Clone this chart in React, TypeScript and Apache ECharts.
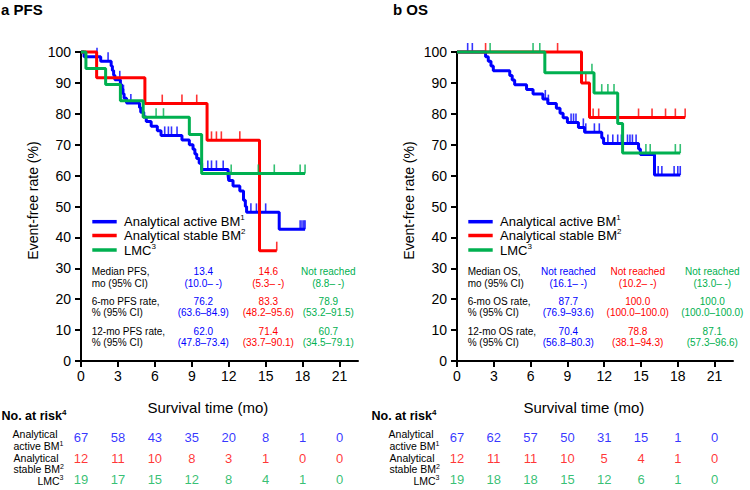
import React, { useEffect, useRef } from 'react';
import * as echarts from 'echarts';

const FONT = '"Liberation Sans", Arial, Helvetica, sans-serif';
const BLUE = '#0000FF';
const RED = '#FF0000';
const GREEN = '#00B050';

const groupNames = ['Analytical active BM', 'Analytical stable BM', 'LMC'];
const groupSup = ['1', '2', '3'];
const groupColors = [BLUE, RED, GREEN];

const xTickValues = [0, 3, 6, 9, 12, 15, 18, 21];

// ---- PFS: Kaplan–Meier steps [month, %] ----
const pfsActive = [
  [0, 100], [0.25, 98.5], [1.6, 97.0], [2.45, 95.5], [2.55, 94.0], [2.65, 92.5], [2.75, 91.0],
  [3.2, 89.5], [3.3, 88.0], [3.4, 86.5], [3.5, 85.0], [3.7, 83.5], [4.75, 82.0], [4.85, 80.5],
  [5.1, 79.0], [5.3, 77.5], [5.7, 76.0], [6.2, 74.5], [6.5, 73.0], [8.2, 71.5], [8.8, 70.0],
  [9.1, 68.5], [9.25, 67.0], [9.4, 65.5], [9.6, 64.0], [9.8, 62.0], [11.95, 60.0], [12.0, 58.4],
  [12.35, 56.6], [12.9, 55.0], [13.2, 52.0], [13.35, 50.0], [13.45, 48.1], [16.1, 42.6], [18.2, 42.6],
];
const pfsStable = [[0, 100], [1.27, 91.7], [5.19, 83.3], [10.24, 71.4], [14.5, 35.7], [15.9, 35.7]];
const pfsLmc = [[0, 100], [0.4, 94.7], [2.0, 89.5], [3.2, 84.2], [5.05, 78.9], [8.8, 73.3], [9.8, 60.7], [18.2, 60.7]];
const pfsActiveCensor = [1.3, 2.2, 3.15, 3.45, 4.05, 6.8, 7.1, 7.35, 7.8, 10.3, 10.6, 11.0, 11.55, 12.1, 13.8, 14.25, 15.0, 17.8, 17.95, 18.1, 18.2];
const pfsStableCensor = [6.6, 8.2, 9.4, 10.6, 11.0, 11.4, 12.9, 15.9];
const pfsLmcCensor = [6.1, 6.7, 12.2, 14.4, 15.7, 17.8, 18.2];

// ---- OS ----
const osActive = [
  [0, 100], [2.33, 98.5], [2.55, 97.0], [2.77, 95.5], [2.96, 93.9], [4.3, 92.4], [4.5, 90.9],
  [4.7, 89.4], [5.67, 87.9], [6.2, 86.4], [7.0, 84.8], [7.4, 83.3], [8.1, 81.8], [8.4, 80.2],
  [8.65, 78.7], [9.0, 77.2], [9.9, 75.6], [10.4, 74.0], [11.8, 72.2], [11.95, 70.4], [14.8, 68.6],
  [14.95, 66.8], [16.1, 60.2], [18.2, 60.2],
];
const osStable = [[0, 100], [10.15, 90.0], [10.8, 78.8], [18.6, 78.8]];
const osLmc = [[0, 100], [7.16, 93.3], [11.17, 86.7], [13.1, 76.9], [13.5, 67.3], [18.2, 67.3]];
const osActiveCensor = [0.87, 1.25, 7.2, 7.45, 9.3, 9.5, 9.7, 10.3, 10.5, 11.2, 11.6, 12.3, 12.7, 13.1, 13.4, 13.9, 14.1, 14.3, 14.6, 16.4, 16.7, 17.7, 18.0, 18.2];
const osStableCensor = [2.33, 8.2, 10.5, 11.1, 11.55, 14.8, 15.9, 17.0, 17.8, 18.6];
const osLmcCensor = [2.7, 6.2, 6.75, 11.0, 11.8, 12.3, 12.8, 15.4, 15.75, 17.8, 18.2];

// ---- numbers at risk ----
const riskTimes = [0, 3, 6, 9, 12, 15, 18, 21];
const pfsRiskActive = [67, 58, 43, 35, 20, 8, 1, 0];
const pfsRiskStable = [12, 11, 10, 8, 3, 1, 0, 0];
const pfsRiskLmc = [19, 17, 15, 12, 8, 4, 1, 0];
const osRiskActive = [67, 62, 57, 50, 31, 15, 1, 0];
const osRiskStable = [12, 11, 11, 10, 5, 4, 1, 0];
const osRiskLmc = [19, 18, 18, 15, 12, 6, 1, 0];

// ---- summary statistics ----
const pfsStatLabels = ['Median PFS,\nmo (95% CI)', '6-mo PFS rate,\n% (95% CI)', '12-mo PFS rate,\n% (95% CI)'];
const pfsStatsActive = ['13.4\n(10.0– -)', '76.2\n(63.6–84.9)', '62.0\n(47.8–73.4)'];
const pfsStatsStable = ['14.6\n(5.3– -)', '83.3\n(48.2–95.6)', '71.4\n(33.7–90.1)'];
const pfsStatsLmc = ['Not reached\n(8.8– -)', '78.9\n(53.2–91.5)', '60.7\n(34.5–79.1)'];
const osStatLabels = ['Median OS,\nmo (95% CI)', '6-mo OS rate,\n% (95% CI)', '12-mo OS rate,\n% (95% CI)'];
const osStatsActive = ['Not reached\n(16.1– -)', '87.7\n(76.9–93.6)', '70.4\n(56.8–80.3)'];
const osStatsStable = ['Not reached\n(10.2– -)', '100.0\n(100.0–100.0)', '78.8\n(38.1–94.3)'];
const osStatsLmc = ['Not reached\n(13.0– -)', '100.0\n(100.0–100.0)', '87.1\n(57.3–96.6)'];

const panels = [
  {
    title: 'a PFS', titleX: 1, left: 81, width: 277, ox: 0, riskX: 1.5, labelOx: 0,
    curves: [pfsActive, pfsStable, pfsLmc],
    censors: [pfsActiveCensor, pfsStableCensor, pfsLmcCensor],
    risk: [pfsRiskActive, pfsRiskStable, pfsRiskLmc],
    statLabels: pfsStatLabels,
    stats: [pfsStatsActive, pfsStatsStable, pfsStatsLmc],
    statCols: [203.3, 268.3, 328.3],
  },
  {
    title: 'b OS', titleX: 393, left: 457, width: 276, ox: 376, riskX: 371.5, labelOx: 376,
    curves: [osActive, osStable, osLmc],
    censors: [osActiveCensor, osStableCensor, osLmcCensor],
    risk: [osRiskActive, osRiskStable, osRiskLmc],
    statLabels: osStatLabels,
    stats: [osStatsActive, osStatsStable, osStatsLmc],
    statCols: [568.3, 637.7, 712.3],
  },
];

function survAt(steps: number[][], t: number): number {
  let v = steps[0][1];
  for (const [tt, vv] of steps) if (tt <= t) v = vv;
  return v;
}

function txt(x: number, y: number, text: string, extra: any = {}, rich?: any) {
  return {
    type: 'text', x, y, silent: true,
    style: Object.assign({ text, fontFamily: FONT, fontSize: 10, fill: '#000', align: 'left', verticalAlign: 'middle' }, extra, rich ? { rich } : {}),
  };
}

function buildOption() {
  const grid: any[] = [];
  const xAxis: any[] = [];
  const yAxis: any[] = [];
  const series: any[] = [];
  const graphic: any[] = [];

  panels.forEach((p, pi) => {
    grid.push({ left: p.left, top: 52, width: p.width, height: 309 });
    xAxis.push({
      gridIndex: pi, type: 'value', min: 0, max: 22.5, interval: 3,
      axisLine: { show: true, onZero: false, lineStyle: { color: '#000', width: 2 } },
      axisTick: { show: true, length: 6, lineStyle: { color: '#000', width: 2 }, customValues: xTickValues },
      axisLabel: { customValues: xTickValues, fontSize: 14, color: '#000', fontFamily: FONT, margin: 8 },
      splitLine: { show: false },
    });
    yAxis.push({
      gridIndex: pi, type: 'value', min: 0, max: 100, interval: 10,
      axisLine: { show: true, onZero: false, lineStyle: { color: '#000', width: 2 } },
      axisTick: { show: true, length: 6, lineStyle: { color: '#000', width: 2 } },
      axisLabel: { fontSize: 14, color: '#000', fontFamily: FONT, margin: 10 },
      splitLine: { show: false },
    });
  });
  panels.forEach((p, pi) => {
    grid.push({ left: p.left, top: 427, width: p.width, height: 65 });
    xAxis.push({ gridIndex: 2 + pi, type: 'value', min: 0, max: 22.5, show: false });
    yAxis.push({ gridIndex: 2 + pi, type: 'value', min: 0, max: 3, inverse: true, show: false });
  });

  panels.forEach((p, pi) => {
    p.curves.forEach((steps, gi) => {
      series.push({
        type: 'line', name: groupNames[gi], xAxisIndex: pi, yAxisIndex: pi, data: steps,
        step: 'end', symbol: 'none', clip: false, color: groupColors[gi],
        lineStyle: { color: groupColors[gi], width: 3 }, z: 2 + gi, silent: true,
      });
      series.push({
        type: 'scatter', xAxisIndex: pi, yAxisIndex: pi, clip: false,
        data: p.censors[gi].map((t) => [t, survAt(steps, t)]),
        symbol: 'rect', symbolSize: [1.6, 9], symbolOffset: [0, -4.5],
        itemStyle: { color: groupColors[gi] }, z: 2 + gi, silent: true,
      });
      series.push({
        type: 'scatter', xAxisIndex: 2 + pi, yAxisIndex: 2 + pi, clip: false,
        data: riskTimes.map((t, i) => [t, gi + 0.5, p.risk[gi][i]]),
        symbolSize: 1, itemStyle: { color: 'rgba(0,0,0,0)' }, silent: true,
        label: {
          show: true, position: 'inside', formatter: (d: any) => String(d.value[2]),
          color: groupColors[gi], fontSize: 13, fontFamily: FONT,
        },
      });
    });

    const ox = p.ox;
    // title
    graphic.push(txt(p.titleX, 9, p.title, { fontSize: 15, fontWeight: 'bold' }));
    // axis names
    graphic.push({ ...txt(33 + ox, 200.5, 'Event-free rate (%)', { fontSize: 14, align: 'center' }), rotation: Math.PI / 2 });
    graphic.push(txt(207.8 + ox, 407, 'Survival time (mo)', { fontSize: 15, align: 'center' }));
    // legend
    const legY = [221.7, 235.5, 250];
    groupNames.forEach((n, gi) => {
      graphic.push({
        type: 'line', silent: true,
        shape: { x1: 92.3 + ox, y1: legY[gi], x2: 116.7 + ox, y2: legY[gi] },
        style: { stroke: groupColors[gi], lineWidth: 3.5 },
      });
      graphic.push(txt(124 + ox, legY[gi], `{a|${n}}{s|${groupSup[gi]}}`, {}, {
        a: { fontSize: 13, fontFamily: FONT, fill: '#000', lineHeight: 16 },
        s: { fontSize: 8, fontFamily: FONT, fill: '#000', verticalAlign: 'top', lineHeight: 9 },
      }));
    });
    // statistics table
    const rowY = [277.5, 307.2, 337.2];
    p.statLabels.forEach((l, ri) => {
      graphic.push(txt(91.7 + ox, rowY[ri], l, { fontSize: 10, lineHeight: 11.3 }));
      p.stats.forEach((col, gi) => {
        graphic.push(txt(p.statCols[gi], rowY[ri], col[ri], { fontSize: 10, lineHeight: 11.3, align: 'center', fill: groupColors[gi] }));
      });
    });
    // risk table
    graphic.push(txt(p.riskX, 416, '{a|No. at risk}{s|4}', {}, {
      a: { fontSize: 12.5, fontWeight: 'bold', fontFamily: FONT, fill: '#000', lineHeight: 15 },
      s: { fontSize: 8, fontWeight: 'bold', fontFamily: FONT, fill: '#000', verticalAlign: 'top', lineHeight: 9 },
    }));
    const lo = p.labelOx;
    const supRich = {
      a: { fontSize: 10.5, fontFamily: FONT, fill: '#000', lineHeight: 13 },
      s: { fontSize: 7, fontFamily: FONT, fill: '#000', verticalAlign: 'top', lineHeight: 8 },
    };
    graphic.push(txt(57.5 + lo, 434.3, 'Analytical', { fontSize: 10.5, align: 'right' }));
    graphic.push(txt(63.5 + lo, 446.3, '{a|active BM}{s|1}', { align: 'right' }, supRich));
    graphic.push(txt(58.5 + lo, 457.6, 'Analytical', { fontSize: 10.5, align: 'right' }));
    graphic.push(txt(64.0 + lo, 469.0, '{a|stable BM}{s|2}', { align: 'right' }, supRich));
    graphic.push(txt(63.5 + lo, 480.6, '{a|LMC}{s|3}', { align: 'right' }, supRich));
  });

  return { animation: false, backgroundColor: '#fff', grid, xAxis, yAxis, series, graphic };
}

export default function App() {
  const ref = useRef<HTMLDivElement>(null);
  useEffect(() => {
    if (!ref.current) return;
    const chart = echarts.init(ref.current, undefined, { renderer: 'svg' });
    chart.setOption(buildOption() as any);
    return () => chart.dispose();
  }, []);
  return <div ref={ref} style={{ position: 'absolute', left: 0, top: 0, width: 750, height: 490 }} />;
}
